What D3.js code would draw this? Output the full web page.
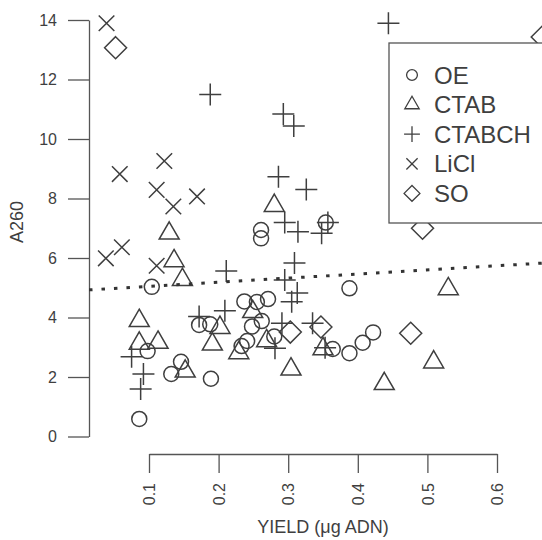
<!DOCTYPE html>
<html>
<head>
<meta charset="utf-8">
<script src="https://cdn.jsdelivr.net/npm/d3@7"></script>
<style>
  body { margin: 0; background: #fff; }
  svg { font-family: "Liberation Sans", Arial, Helvetica, sans-serif; }
</style>
</head>
<body>
<svg id="chart" width="542" height="540"></svg>
<script>
// values
const oeX = [0.104, 0.086, 0.098, 0.132, 0.146, 0.189, 0.172, 0.188, 0.237, 0.255, 0.271, 0.262,
  0.248, 0.241, 0.233, 0.280, 0.261, 0.261, 0.354, 0.388, 0.364, 0.388, 0.407, 0.422];
const oeY = [5.03, 0.59, 2.87, 2.10, 2.51, 1.94, 3.75, 3.77, 4.54, 4.52, 4.62, 3.88,
  3.70, 3.21, 3.04, 3.36, 6.94, 6.66, 7.19, 4.98, 2.94, 2.80, 3.15, 3.50];

const ctabX = [0.280, 0.129, 0.136, 0.148, 0.086, 0.202, 0.191, 0.086, 0.113, 0.152, 0.229, 0.249,
  0.269, 0.304, 0.350, 0.530, 0.509, 0.438];
const ctabY = [7.76, 6.83, 5.90, 5.27, 3.89, 3.66, 3.10, 3.13, 3.16, 2.19, 2.81, 4.19,
  3.21, 2.26, 2.94, 4.96, 2.50, 1.77];

const ctabchX = [0.444, 0.188, 0.293, 0.308, 0.286, 0.326, 0.295, 0.314, 0.357, 0.348, 0.309, 0.295,
  0.313, 0.305, 0.211, 0.172, 0.209, 0.075, 0.092, 0.088, 0.291, 0.281, 0.335, 0.353];
const ctabchY = [13.89, 11.50, 10.84, 10.44, 8.73, 8.30, 7.19, 6.88, 7.19, 6.83, 5.83, 5.26,
  4.82, 4.53, 5.56, 4.03, 4.23, 2.68, 2.10, 1.60, 3.81, 2.97, 3.81, 2.98];

const liclX = [0.039, 0.122, 0.058, 0.111, 0.169, 0.135, 0.061, 0.038, 0.111];
const liclY = [13.89, 9.26, 8.82, 8.29, 8.07, 7.73, 6.36, 5.99, 5.74];

const soX = [0.052, 0.665, 0.493, 0.303, 0.347, 0.476];
const soY = [13.07, 13.43, 7.00, 3.51, 3.68, 3.47];

const groups = ["OE", "CTAB", "CTABCH", "LiCl", "SO"];
const xTicks = [0.1, 0.2, 0.3, 0.4, 0.5, 0.6];
const yTicks = [0, 2, 4, 6, 8, 10, 12, 14];
const trendIntercept = 4.91, trendSlope = 1.38;

const ink = "#3f3f3f";
const svg = d3.select("#chart");

const x = d3.scaleLinear().domain([0.1, 0.6]).range([149, 497]);
const y = d3.scaleLinear().domain([0, 14]).range([436.5, 20]);

// symbol paths, centred on 0,0
function shape(name, k) {
  const p = d3.path();
  if (name === "OE") {
    const r = 7.5 * k;
    p.moveTo(r, 0); p.arc(0, 0, r, 0, 2 * Math.PI);
  } else if (name === "CTAB") {
    return d3.symbol(d3.symbolTriangle, 173 * k * k)();
  } else if (name === "CTABCH") {
    const h = 11 * k;
    p.moveTo(-h, 0); p.lineTo(h, 0); p.moveTo(0, -h); p.lineTo(0, h);
  } else if (name === "LiCl") {
    const h = 7.8 * k;
    p.moveTo(-h, -h); p.lineTo(h, h); p.moveTo(-h, h); p.lineTo(h, -h);
  } else {
    const h = 11 * k;
    p.moveTo(0, -h); p.lineTo(h, 0); p.lineTo(0, h); p.lineTo(-h, 0); p.closePath();
  }
  return p.toString();
}

// axes
const yAxis = svg.append("g")
  .attr("transform", "translate(89,0)")
  .call(d3.axisLeft(y).tickValues(yTicks).tickSize(21).tickSizeOuter(0).tickPadding(11));

const xAxis = svg.append("g")
  .attr("transform", "translate(0,454)")
  .call(d3.axisBottom(x).tickValues(xTicks).tickSize(19).tickSizeOuter(0).tickFormat(d3.format(".1f")));

xAxis.selectAll(".tick text")
  .attr("transform", "rotate(-90)")
  .attr("x", -29).attr("y", 0).attr("dy", "0.35em")
  .style("text-anchor", "end");

[yAxis, xAxis].forEach(a => {
  a.selectAll("path, line").attr("stroke", "#555").attr("stroke-width", 1.3);
  a.selectAll("text").attr("fill", ink).style("font-size", "16px");
});

svg.append("text")
  .attr("transform", "translate(23,222) rotate(-90)")
  .attr("text-anchor", "middle")
  .attr("fill", ink).style("font-size", "18px")
  .text("A260");

svg.append("text")
  .attr("x", 323).attr("y", 533)
  .attr("text-anchor", "middle")
  .attr("fill", ink).style("font-size", "18px")
  .text("YIELD (μg ADN)");

// points
const series = [
  ["OE", oeX, oeY], ["CTAB", ctabX, ctabY], ["CTABCH", ctabchX, ctabchY],
  ["LiCl", liclX, liclY], ["SO", soX, soY]
];
const marks = svg.append("g");
series.forEach(([name, xs, ys]) => {
  marks.selectAll(null)
    .data(xs.map((v, i) => [v, ys[i]]))
    .enter().append("path")
    .attr("d", shape(name, 1))
    .attr("transform", d => `translate(${x(d[0])},${y(d[1])})`)
    .attr("fill", "none")
    .attr("stroke", ink)
    .attr("stroke-width", 1.5);
});

// fitted line, clipped to the plot region
svg.append("clipPath").attr("id", "plotclip")
  .append("rect").attr("x", 89).attr("y", 0).attr("width", 460).attr("height", 450);

const x0 = x.invert(89), x1 = x.invert(560);
svg.append("line")
  .attr("clip-path", "url(#plotclip)")
  .attr("x1", x(x0)).attr("y1", y(trendIntercept + trendSlope * x0))
  .attr("x2", x(x1)).attr("y2", y(trendIntercept + trendSlope * x1))
  .attr("stroke", "#333")
  .attr("stroke-width", 3)
  .attr("stroke-dasharray", "3.5 9");

// legend
const legend = svg.append("g").attr("transform", "translate(389,43)");
legend.append("rect")
  .attr("width", 200).attr("height", 180)
  .attr("fill", "#fff").attr("stroke", "#555").attr("stroke-width", 1.3);

const rows = legend.selectAll(".row").data(groups).enter().append("g")
  .attr("transform", (d, i) => `translate(0,${32 + i * 29.6})`);
rows.append("path")
  .attr("transform", "translate(23,0)")
  .attr("d", d => shape(d, 0.72))
  .attr("fill", "none").attr("stroke", ink).attr("stroke-width", 1.3);
rows.append("text")
  .attr("x", 45).attr("dy", "0.36em")
  .attr("fill", ink).style("font-size", "24px")
  .text(d => d);
</script>
</body>
</html>
